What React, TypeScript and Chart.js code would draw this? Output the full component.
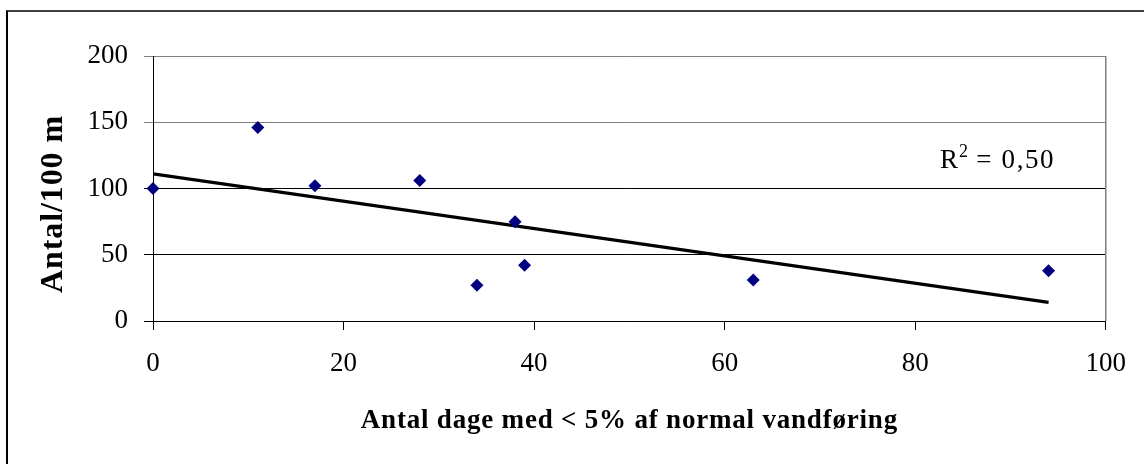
import React, { useEffect, useRef } from "react";
import { Chart, registerables } from "chart.js";

Chart.register(...registerables);

// ---- data ----
const daysBelow5: number[] = [0, 11, 17, 28, 34, 38, 39, 63, 94];
const countPer100m: number[] = [100, 146, 102, 106, 27, 75, 42, 31, 38];
const trendX: number[] = [0, 94];
const trendY: number[] = [111, 14];
const xTickValues: number[] = [0, 20, 40, 60, 80, 100];
const yTickValues: number[] = [0, 50, 100, 150, 200];
const xTitle = "Antal dage med < 5% af normal vandføring";
const yTitle = "Antal/100 m";
const r2Value = "0,50";

const SERIF = '"Liberation Serif", "Times New Roman", serif';

const overlayPlugin = {
  id: "overlay",
  afterDraw(chart: any) {
    const ctx: CanvasRenderingContext2D = chart.ctx;
    const a = chart.chartArea;
    ctx.save();
    // right border of plot area
    ctx.strokeStyle = "#808080";
    ctx.lineWidth = 1.5;
    ctx.beginPath();
    ctx.moveTo(a.right, a.top);
    ctx.lineTo(a.right, a.bottom);
    ctx.stroke();

    ctx.fillStyle = "#000";
    // x title
    ctx.font = `bold 27px ${SERIF}`;
    (ctx as any).letterSpacing = "0.8px";
    ctx.textAlign = "center";
    ctx.textBaseline = "alphabetic";
    ctx.fillText(xTitle, (a.left + a.right) / 2, 428);

    // y title
    ctx.save();
    ctx.font = `bold 32px ${SERIF}`;
    (ctx as any).letterSpacing = "0.9px";
    ctx.translate(62, 204);
    ctx.rotate(-Math.PI / 2);
    ctx.textAlign = "center";
    ctx.fillText(yTitle, 0, 0);
    ctx.restore();

    // R² label
    (ctx as any).letterSpacing = "0px";
    ctx.textAlign = "left";
    let x = 940;
    const base = 168;
    ctx.font = `27px ${SERIF}`;
    ctx.fillText("R", x, base);
    x += ctx.measureText("R").width;
    ctx.font = `18px ${SERIF}`;
    ctx.fillText("2", x + 1, base - 11);
    x += ctx.measureText("2").width + 1;
    ctx.font = `27px ${SERIF}`;
    (ctx as any).letterSpacing = "1.6px";
    ctx.fillText(" = " + r2Value, x, base);
    ctx.restore();
  },
};

export default function App() {
  const canvasRef = useRef<HTMLCanvasElement | null>(null);

  useEffect(() => {
    const canvas = canvasRef.current;
    if (!canvas) return;
    const chart = new Chart(canvas, {
      type: "scatter",
      data: {
        datasets: [
          {
            label: "Antal/100 m",
            data: daysBelow5.map((d, i) => ({ x: d, y: countPer100m[i] })),
            pointStyle: "rectRot",
            pointRadius: 6.5,
            pointHoverRadius: 6.5,
            backgroundColor: "#000080",
            borderColor: "#000080",
            borderWidth: 0,
            showLine: false,
            clip: false,
            order: 1,
          } as any,
          {
            label: "trend",
            data: trendX.map((d, i) => ({ x: d, y: trendY[i] })),
            showLine: true,
            pointRadius: 0,
            borderColor: "#000",
            borderWidth: 3.2,
            fill: false,
            order: 2,
          } as any,
        ],
      },
      options: {
        responsive: false,
        animation: false,
        devicePixelRatio: 1,
        layout: { padding: { left: 0, right: 37, top: 56, bottom: 0 } },
        plugins: {
          legend: { display: false },
          tooltip: { enabled: false },
          title: { display: false },
        },
        scales: {
          x: {
            type: "linear",
            min: 0,
            max: 100,
            afterBuildTicks: (scale: any) => {
              scale.ticks = xTickValues.map((v) => ({ value: v }));
            },
            afterFit: (scale: any) => {
              scale.height = 143;
            },
            ticks: {
              color: "#000",
              font: { family: SERIF, size: 27 },
              padding: 18,
              maxRotation: 0,
            },
            grid: {
              drawOnChartArea: false,
              drawTicks: true,
              tickLength: 9,
              color: "#000",
            },
            border: { color: "#000", width: 1 },
          },
          y: {
            type: "linear",
            min: 0,
            max: 200,
            afterBuildTicks: (scale: any) => {
              scale.ticks = yTickValues.map((v) => ({ value: v }));
            },
            afterFit: (scale: any) => {
              scale.width = 153;
            },
            ticks: {
              color: "#000",
              font: { family: SERIF, size: 27 },
              padding: 16,
            },
            grid: {
              drawTicks: true,
              tickLength: 9,
              color: (c: any) => (c.tick && c.tick.value >= 150 ? "#808080" : "#000"),
            },
            border: { color: "#000", width: 1 },
          },
        },
      },
      plugins: [overlayPlugin],
    });
    return () => chart.destroy();
  }, []);

  return (
    <div
      style={{
        position: "fixed",
        left: 0,
        top: 0,
        width: 1144,
        height: 464,
        overflow: "hidden",
        background: "#fff",
      }}
    >
      <div
        style={{
          position: "absolute",
          left: 6,
          top: 10,
          width: 1200,
          height: 500,
          borderLeft: "2px solid #000",
          borderTop: "2px solid #404040",
        }}
      />
      <canvas
        ref={canvasRef}
        width={1144}
        height={464}
        style={{ position: "absolute", left: 0, top: 0, width: 1144, height: 464 }}
      />
    </div>
  );
}
